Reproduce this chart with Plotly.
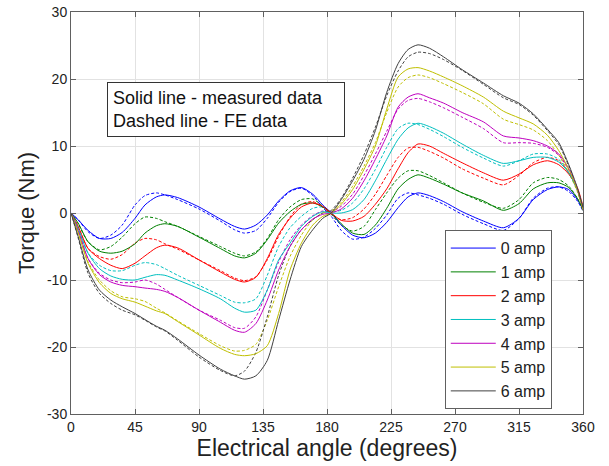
import plotly.graph_objects as go

angle_deg = [0, 5, 12, 20, 28, 36, 45, 52, 60, 66, 75, 90, 105, 115, 122, 130, 138, 146, 154,
             162, 170, 177, 183, 190, 198, 206, 214, 222, 230, 237, 244, 252, 262, 275, 290,
             304, 315, 325, 335, 343, 350, 356, 360]

# Measured torque (solid lines), Nm
meas_0 = [0, -1.0, -2.6, -3.8, -3.8, -2.9, -0.8, 1.2, 2.4, 2.7, 2.3, 0.9, -0.9, -2.0, -2.4, -1.8, -0.3, 1.8, 3.3,
          3.8, 2.8, 1.2, 0.0, -1.8, -3.3, -3.7, -3.0, -1.4, 0.8, 2.4, 3.0, 2.6, 1.7, 0.2, -1.2,
          -2.2, -0.8, 2.0, 3.5, 3.9, 3.5, 2.0, 0.5]
meas_1 = [0, -1.5, -4.3, -5.7, -6.0, -5.7, -4.6, -3.0, -1.9, -1.6, -2.0, -3.6, -5.3, -6.4, -6.7, -6.0, -4.0, -1.5, 0.2,
          1.3, 1.5, 0.9, 0.0, -1.6, -3.0, -3.2, -1.8, 0.7, 3.6, 5.0, 5.7, 5.2, 4.3, 3.0, 1.8,
          0.4, 1.4, 3.6, 4.5, 4.5, 3.8, 2.2, 0.5]
meas_2 = [0, -2.0, -5.3, -6.8, -7.8, -8.3, -7.5, -6.4, -5.2, -4.8, -5.2, -7.0, -8.8, -9.9, -10.3, -9.6, -6.8, -3.2, -0.8,
          0.9, 1.5, 1.0, 0.0, -1.1, -1.2, -0.5, 1.3, 3.6, 6.6, 9.0, 10.3, 10.0, 8.9, 7.5, 6.0,
          4.9, 5.8, 7.2, 7.8, 7.2, 5.8, 3.8, 1.0]
meas_3 = [0, -2.3, -6.0, -8.3, -9.4, -9.9, -10.0, -9.6, -9.2, -9.3, -10.0, -11.3, -12.8, -14.2, -14.8, -14.5, -11.5, -7.0, -4.5,
          -2.0, -0.5, 0.2, 0.0, 0.0, 0.5, 2.0, 4.8, 8.0, 11.0, 12.7, 13.4, 12.9, 11.9, 10.3, 8.6,
          7.4, 7.8, 8.3, 8.3, 7.6, 6.0, 3.5, 0.8]
meas_4 = [0, -2.6, -6.8, -9.2, -10.3, -10.8, -11.0, -11.2, -11.4, -11.7, -12.6, -14.5, -16.3, -17.5, -17.8, -16.5, -13.0, -8.5, -5.0,
          -2.5, -0.9, -0.2, 0.0, 0.6, 2.2, 4.8, 8.0, 11.5, 15.8, 17.3, 17.8, 17.2, 16.4, 15.0, 13.6,
          11.5, 11.2, 10.8, 10.0, 8.8, 6.6, 3.6, 0.5]
meas_5 = [0, -2.9, -7.5, -10.4, -12.0, -12.8, -13.3, -13.9, -14.6, -15.0, -16.2, -18.2, -20.2, -21.1, -21.3, -21.0, -19.8, -15.0, -8.5,
          -4.5, -1.8, -0.5, 0.0, 1.3, 3.5, 6.5, 10.0, 15.5, 20.3, 21.5, 21.7, 21.2, 20.3, 19.0, 17.3,
          15.2, 14.2, 13.3, 11.6, 9.3, 6.5, 3.5, 0.5]
meas_6 = [0, -3.5, -8.5, -11.5, -13.0, -14.0, -15.0, -15.9, -16.9, -17.5, -18.8, -21.2, -23.3, -24.3, -24.8, -24.3, -22.0, -16.0, -10.0,
          -5.0, -2.5, -0.8, 0.0, 2.0, 4.8, 8.0, 12.3, 18.0, 22.3, 24.4, 25.1, 24.6, 23.3, 21.4, 19.4,
          17.5, 16.4, 14.8, 12.5, 10.5, 7.2, 3.8, 0.8]

# FE torque (dashed lines), Nm
fe_0 = [0, -1.0, -2.8, -3.8, -3.3, -1.8, 1.2, 2.6, 3.0, 2.7, 2.0, 0.6, -1.2, -2.5, -3.0, -2.6, -0.8, 1.6, 3.2,
        3.7, 2.6, 0.8, -0.5, -2.6, -3.9, -3.6, -2.3, -0.3, 2.2, 3.0, 2.7, 2.2, 1.3, -0.2, -1.6,
        -2.6, -0.8, 2.2, 3.7, 3.9, 3.2, 1.8, 0.3]
fe_1 = [0, -1.6, -4.3, -5.5, -5.0, -3.6, -1.6, -0.6, -0.8, -1.3, -2.0, -3.5, -5.0, -6.0, -6.4, -5.8, -3.8, -1.0, 0.9,
        2.0, 2.1, 1.0, -0.2, -1.8, -2.7, -2.0, 0.5, 3.0, 5.2, 6.3, 6.3, 5.6, 4.5, 3.0, 1.6,
        0.7, 2.0, 4.5, 5.3, 5.0, 4.0, 2.2, 0.4]
fe_2 = [0, -2.0, -5.3, -6.5, -6.9, -6.2, -4.5, -3.8, -4.0, -4.6, -5.4, -7.0, -8.6, -9.7, -10.1, -9.5, -7.0, -3.5, -0.6,
        1.3, 1.7, 0.9, -0.2, -1.0, -0.7, 0.6, 2.8, 5.6, 8.3, 9.7, 9.8, 9.2, 8.2, 6.6, 5.2,
        4.2, 5.6, 7.5, 8.3, 7.8, 6.0, 3.5, 0.8]
fe_3 = [0, -2.3, -6.0, -7.8, -8.6, -8.6, -7.8, -7.4, -7.7, -8.3, -9.3, -10.8, -12.3, -13.3, -13.4, -12.8, -9.3, -5.0, -2.2,
        -0.5, 0.7, 0.9, 0.2, 0.4, 1.5, 3.6, 6.5, 9.8, 12.6, 13.4, 13.2, 12.5, 11.4, 9.8, 8.2,
        7.0, 7.8, 8.8, 8.8, 8.0, 6.0, 3.4, 0.7]
fe_4 = [0, -2.6, -6.8, -9.0, -10.0, -10.4, -10.3, -10.0, -10.6, -11.4, -12.6, -14.5, -16.0, -17.1, -17.2, -15.5, -11.5, -7.3, -4.0,
        -1.8, -0.4, 0.3, 0.2, 1.0, 2.8, 5.6, 8.8, 12.2, 15.5, 16.8, 17.1, 16.6, 15.7, 14.3, 12.6,
        10.5, 10.5, 10.4, 9.8, 8.6, 6.4, 3.4, 0.4]
fe_5 = [0, -2.9, -7.3, -10.0, -11.6, -12.5, -12.8, -13.2, -14.2, -14.9, -16.1, -18.0, -19.8, -20.6, -20.5, -19.6, -16.0, -11.0, -6.5,
        -3.3, -1.0, 0.0, 0.3, 1.6, 4.0, 7.0, 10.5, 15.0, 18.8, 20.2, 20.6, 20.2, 19.3, 18.0, 16.3,
        14.0, 13.2, 12.4, 10.8, 8.6, 6.0, 3.2, 0.4]
fe_6 = [0, -3.7, -9.0, -12.0, -13.5, -14.5, -15.2, -16.0, -17.0, -17.6, -19.0, -21.5, -23.5, -24.3, -23.6, -20.8, -15.5, -9.3, -5.0,
        -2.5, -1.0, 0.0, 0.4, 2.2, 5.2, 8.7, 12.8, 17.5, 21.2, 23.3, 24.0, 23.8, 22.9, 21.3, 19.2,
        17.2, 16.2, 14.6, 12.3, 10.2, 7.0, 3.6, 0.6]

series_names = ["0 amp", "1 amp", "2 amp", "3 amp", "4 amp", "5 amp", "6 amp"]
measured = [meas_0, meas_1, meas_2, meas_3, meas_4, meas_5, meas_6]
fe_data = [fe_0, fe_1, fe_2, fe_3, fe_4, fe_5, fe_6]
colors = ["rgb(0,0,255)", "rgb(0,128,0)", "rgb(255,0,0)", "rgb(0,191,191)",
          "rgb(191,0,191)", "rgb(191,191,0)", "rgb(64,64,64)"]

x_ticks = [0, 45, 90, 135, 180, 225, 270, 315, 360]
y_ticks = [-30, -20, -10, 0, 10, 20, 30]

FONT = "Liberation Sans, Arial, sans-serif"

fig = go.Figure()
for i, name in enumerate(series_names):
    fig.add_trace(go.Scatter(
        x=angle_deg, y=fe_data[i], mode="lines", name=name + " FE",
        line=dict(color=colors[i], width=1, dash="3px,2px", shape="spline", smoothing=0.7),
        showlegend=False, hoverinfo="skip"))
for i, name in enumerate(series_names):
    fig.add_trace(go.Scatter(
        x=angle_deg, y=measured[i], mode="lines", name=name, legendgroup=name,
        line=dict(color=colors[i], width=1, shape="spline", smoothing=0.7)))

axis_common = dict(
    showline=True, linecolor="#606060", linewidth=1, mirror="ticks",
    ticks="inside", ticklen=5, tickcolor="#606060",
    showgrid=True, gridcolor="#e2e2e2", gridwidth=1,
    zeroline=False, automargin=False,
    tickfont=dict(family=FONT, size=14, color="#222"),
)

fig.update_xaxes(range=[0, 360], tickvals=x_ticks, ticktext=[str(v) for v in x_ticks],
                 title=dict(text="Electrical angle (degrees)", font=dict(family=FONT, size=23, color="#222"),
                            standoff=1),
                 **axis_common)
fig.update_yaxes(range=[-30, 30], tickvals=y_ticks, ticktext=[str(v) for v in y_ticks],
                 title=dict(text="Torque (Nm)", font=dict(family=FONT, size=22, color="#222"),
                            standoff=6),
                 **axis_common)

fig.add_annotation(
    xref="paper", yref="paper", x=0.0703, y=0.826, xanchor="left", yanchor="top",
    text="Solid line - measured data<br>Dashed line - FE data", align="left", showarrow=False,
    width=226, font=dict(family=FONT, size=18, color="#111"),
    bordercolor="#333", borderwidth=1, borderpad=5, bgcolor="white")

fig.update_layout(
    width=609, height=466,
    margin=dict(l=71, r=26, t=12, b=52),
    paper_bgcolor="white", plot_bgcolor="white",
    showlegend=True,
    legend=dict(x=0.939, y=0.012, xanchor="right", yanchor="bottom",
                bgcolor="white", bordercolor="#606060", borderwidth=1,
                font=dict(family=FONT, size=16, color="#222"),
                tracegroupgap=0, itemwidth=45),
)

fig.write_html("out.html", config={"displayModeBar": False},
               post_script="document.body.style.margin='0';")
